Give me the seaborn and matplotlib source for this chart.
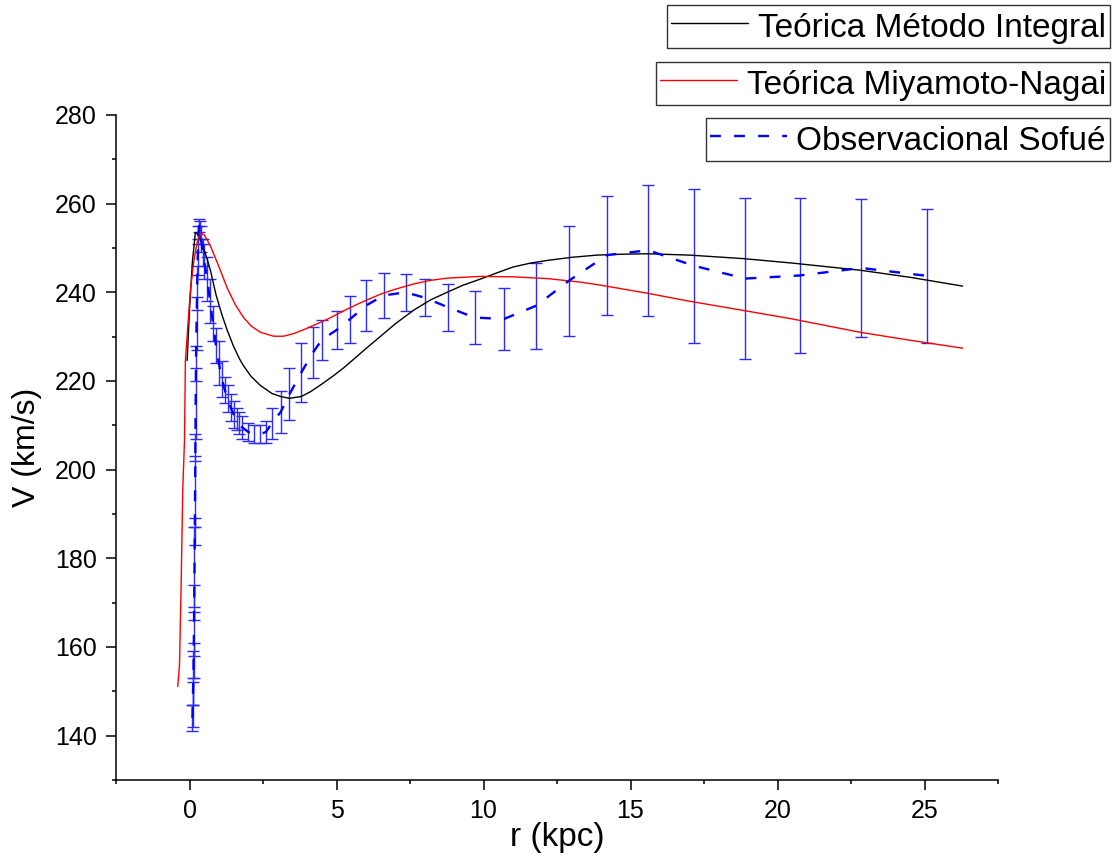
import matplotlib
matplotlib.use('Agg')
import matplotlib.pyplot as plt
from matplotlib.ticker import MultipleLocator
import pandas as pd
import seaborn as sns

# Teórica - método integral (black)
r_int = [-0.08, 0.0, 0.1, 0.2, 0.3, 0.45, 0.6, 0.71, 0.9, 1.1, 1.28, 1.5, 1.7, 1.84, 2.1, 2.41,
         2.8, 3.1, 3.4, 3.8, 4.12, 4.5, 4.9, 5.25, 5.6, 6.0, 6.5, 7.0, 7.63, 8.2, 8.76, 9.3, 9.9,
         10.5, 11.0, 11.6, 12.17, 13.0, 13.87, 14.7, 15.57, 17.0, 18.85, 20.5, 22.8, 24.5, 26.3]
v_int = [224.6, 236, 247, 253.5, 253, 250.5, 247.5, 245, 239.5, 235, 231.5, 227.8, 225, 223.4, 221, 219,
         217.2, 216.5, 216.1, 216.5, 217.6, 219.3, 221.2, 223, 225, 227.3, 230.1, 232.9, 236, 238.3, 240, 241.6, 243,
         244.5, 245.7, 246.6, 247.2, 247.9, 248.4, 248.6, 248.7, 248.4, 247.6, 246.6, 245, 243.4, 241.4]

# Teórica - Miyamoto-Nagai (red)
r_mn = [-0.40, -0.34, -0.28, -0.23, -0.17, -0.14, -0.05, 0.03, 0.15, 0.25, 0.37, 0.5, 0.71, 1.0,
        1.28, 1.56, 1.84, 2.1, 2.41, 2.86, 3.2, 3.55, 4.0, 4.68, 5.36, 5.8, 6.5, 7.0, 7.63, 8.2, 8.76, 9.9,
        11.0, 12.17, 13.3, 14.0, 15.57, 17.0, 18.85, 20.5, 22.8, 24.5, 26.3]
v_mn = [151.1, 156, 175.7, 195.3, 206.6, 224.6, 233, 240.4, 247.2, 251, 253.3, 253, 250.5, 245.8,
        241, 237.2, 234.3, 232.4, 231, 230.1, 230.1, 230.7, 231.9, 233.9, 236.2, 237.6, 239.6, 240.7, 241.9, 242.7, 243.2, 243.6,
        243.5, 243.1, 242.3, 241.6, 239.8, 238, 235.9, 234, 231, 229.2, 227.4]

# Observacional Sofué (blue, with error bars)
r_obs = [0.10, 0.11, 0.12, 0.13, 0.14, 0.15, 0.16, 0.17, 0.18, 0.19, 0.20, 0.21, 0.22, 0.24, 0.26,
         0.28, 0.30, 0.33, 0.36, 0.40, 0.45,
         0.5, 0.6, 0.7, 0.8, 0.9, 1.0, 1.1, 1.2, 1.3, 1.4, 1.5, 1.6, 1.7, 1.8, 2.0, 2.2, 2.4, 2.6,
         2.8, 3.1, 3.4, 3.8, 4.2, 4.5, 5.0, 5.45, 6.0, 6.6, 7.35, 8.0, 8.8, 9.7, 10.7, 11.8, 12.9,
         14.2, 15.6, 17.15, 18.9, 20.75, 22.85, 25.1]
v_obs = [144, 147, 150, 153, 157, 163, 170, 178, 186, 195, 205, 215, 224, 233, 241,
         248, 253, 255, 254, 252, 249,
         247, 243, 238, 233, 228, 224, 220.5, 218, 216, 214, 212.5, 211.5, 210.5, 209.5, 208.5, 208, 208, 208.5,
         210.5, 213, 217, 221.9, 226.4, 229.3, 231.5, 233.9, 237, 239.3, 240, 238.8, 236.6, 234.3, 234, 237, 242.6,
         248.4, 249.5, 246, 243.1, 243.8, 245.5, 243.7]
e_obs = [3, 5, 3, 6, 4, 5, 4, 9, 3, 8, 3, 8, 4, 6, 5,
         4, 2, 1.5, 2, 3, 3,
         4, 5, 5, 4, 4, 5, 4, 3, 3, 3, 3, 2.5, 2.5, 2.5, 2, 2, 2, 2.5,
         3.5, 4.8, 5.9, 6.6, 5.7, 4.5, 4.3, 5.3, 5.7, 5.1, 4.1, 4.2, 5.3, 5.9, 7, 9.7, 12.4,
         13.4, 14.8, 17.4, 18.2, 17.5, 15.5, 15.1]

df_int = pd.DataFrame({'r': r_int, 'v': v_int})
df_mn = pd.DataFrame({'r': r_mn, 'v': v_mn})
df_obs = pd.DataFrame({'r': r_obs, 'v': v_obs, 'err': e_obs})

sns.set_style('ticks')
plt.rcParams['font.family'] = ['Liberation Sans', 'DejaVu Sans']

fig = plt.figure(figsize=(11.18, 8.6), dpi=100)
ax = fig.add_axes([116 / 1118, 80 / 860, 882 / 1118, 665 / 860])

# error bars first, lines on top
ax.errorbar(df_obs.r, df_obs.v, yerr=df_obs.err, fmt='none', ecolor='#2b2bff',
            elinewidth=1.0, capsize=4, capthick=1.0, zorder=2)
sns.lineplot(data=df_int, x='r', y='v', sort=False, estimator=None, color='black',
             lw=1.0, ax=ax, label='Teórica Método Integral', zorder=3)
sns.lineplot(data=df_mn, x='r', y='v', sort=False, estimator=None, color='red',
             lw=1.0, ax=ax, label='Teórica Miyamoto-Nagai', zorder=3)
sns.lineplot(data=df_obs, x='r', y='v', sort=False, estimator=None, color='blue',
             lw=1.7, ls=(0, (4.6, 5.6)), ax=ax, label='Observacional Sofué', zorder=4)

handles, labels = ax.get_legend_handles_labels()
if ax.get_legend() is not None:
    ax.get_legend().remove()

ax.set_xlim(-2.5, 27.5)
ax.set_ylim(130, 280)
ax.xaxis.set_major_locator(MultipleLocator(5))
ax.xaxis.set_minor_locator(MultipleLocator(2.5))
ax.yaxis.set_major_locator(MultipleLocator(20))
ax.yaxis.set_minor_locator(MultipleLocator(10))
sns.despine(ax=ax)
for s in ['left', 'bottom']:
    ax.spines[s].set_linewidth(1.1)
    ax.spines[s].set_color('black')
ax.tick_params(which='major', length=7, width=1.1, color='black')
ax.tick_params(which='minor', length=3, width=1.1, color='black')
ax.tick_params(axis='y', labelsize=18, pad=7, labelcolor='black')
ax.tick_params(axis='x', labelsize=18, pad=7, labelcolor='black')

ax.set_xlabel('r (kpc)', fontsize=24, labelpad=-1, color='black')
ax.set_ylabel('V (km/s)', fontsize=23, labelpad=9, color='black')

# three separate legend boxes stacked top-right
tops = [5, 62, 118]
for h, l, top in zip(handles, labels, tops):
    leg = fig.legend(handles=[h], labels=[l], loc='upper right',
                     bbox_to_anchor=(1110 / 1118, 1 - top / 860), bbox_transform=fig.transFigure,
                     borderaxespad=0, fontsize=24, frameon=True, fancybox=False, framealpha=1,
                     edgecolor='#333333', borderpad=0.12, handlelength=2.3, handletextpad=0.3,
                     handleheight=1.15)
    leg.get_frame().set_linewidth(1.0)
    for t in leg.get_texts():
        t.set_color('black')

fig.savefig('out.png', dpi=100)
